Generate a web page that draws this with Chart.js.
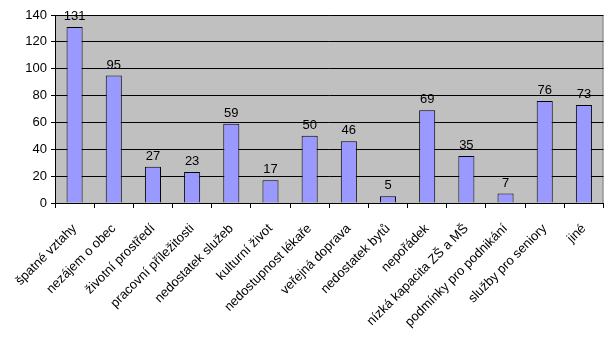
<!DOCTYPE html>
<html><head><meta charset="utf-8">
<script src="https://cdn.jsdelivr.net/npm/chart.js@4"></script>
<style>html,body{margin:0;padding:0;background:#fff;}#wrap{width:608px;height:343px;}</style>
</head><body><div id="wrap"><canvas id="c" width="608" height="343"></canvas></div>
<script>
const categories = ["špatné vztahy","nezájem o obec","životní prostředí","pracovní příležitosti","nedostatek služeb","kulturní život","nedostupnost lékaře","veřejná doprava","nedostatek bytů","nepořádek","nízká kapacita ZŠ a MŠ","podmínky pro podnikání","služby pro seniory","jiné"];
const values = [131,95,27,23,59,17,50,46,5,69,35,7,76,73];
const yTicks = [0,20,40,60,80,100,120,140];

const FONT = '"Liberation Sans", Arial, sans-serif';

const bgPlugin = {
  id:'bg',
  beforeDraw(chart){
    const {ctx, chartArea:a} = chart;
    ctx.save();
    ctx.fillStyle = '#c0c0c0';
    ctx.fillRect(a.left, a.top, a.right-a.left, a.bottom-a.top);
    ctx.strokeStyle = '#808080'; ctx.lineWidth = 1;
    ctx.beginPath();
    ctx.moveTo(a.left, a.top+0.5); ctx.lineTo(a.right-0.5, a.top+0.5); ctx.lineTo(a.right-0.5, a.bottom);
    ctx.stroke();
    ctx.restore();
  },
  afterDatasetsDraw(chart){
    const {ctx} = chart;
    const meta = chart.getDatasetMeta(0);
    ctx.save();
    ctx.fillStyle = '#000';
    ctx.font = '13px ' + FONT;
    ctx.textAlign = 'center'; ctx.textBaseline = 'bottom';
    meta.data.forEach((bar,i)=>{
      ctx.fillText(String(chart.data.datasets[0].data[i]), bar.x, bar.y-4);
    });
    ctx.restore();
  }
};

new Chart(document.getElementById('c'), {
  type:'bar',
  data:{labels:categories, datasets:[{data:values, backgroundColor:'#9999ff', borderColor:'#000', borderWidth:1, categoryPercentage:1, barPercentage:0.41}]},
  options:{
    responsive:false, animation:false, devicePixelRatio:1,
    layout:{padding:{top:15,right:2,left:0,bottom:0}},
    plugins:{legend:{display:false}, tooltip:{enabled:false}},
    scales:{
      x:{
        grid:{display:true, drawOnChartArea:false, drawTicks:true, tickLength:5, color:'#000', offset:true},
        border:{display:true, color:'#000', width:1},
        ticks:{maxRotation:45, minRotation:45, autoSkip:false, color:'#000', padding:13, font:{family:FONT, size:13}},
        afterFit(s){ s.height = 140; }
      },
      y:{
        min:0, max:140,
        afterBuildTicks(s){ s.ticks = yTicks.map(v=>({value:v})); },
        grid:{color:'#000', tickLength:4, drawTicks:true},
        border:{display:true, color:'#000', width:1},
        ticks:{color:'#000', padding:4, font:{family:FONT, size:13}},
        afterFit(s){ s.width = 55; }
      }
    }
  },
  plugins:[bgPlugin]
});
</script></body></html>
